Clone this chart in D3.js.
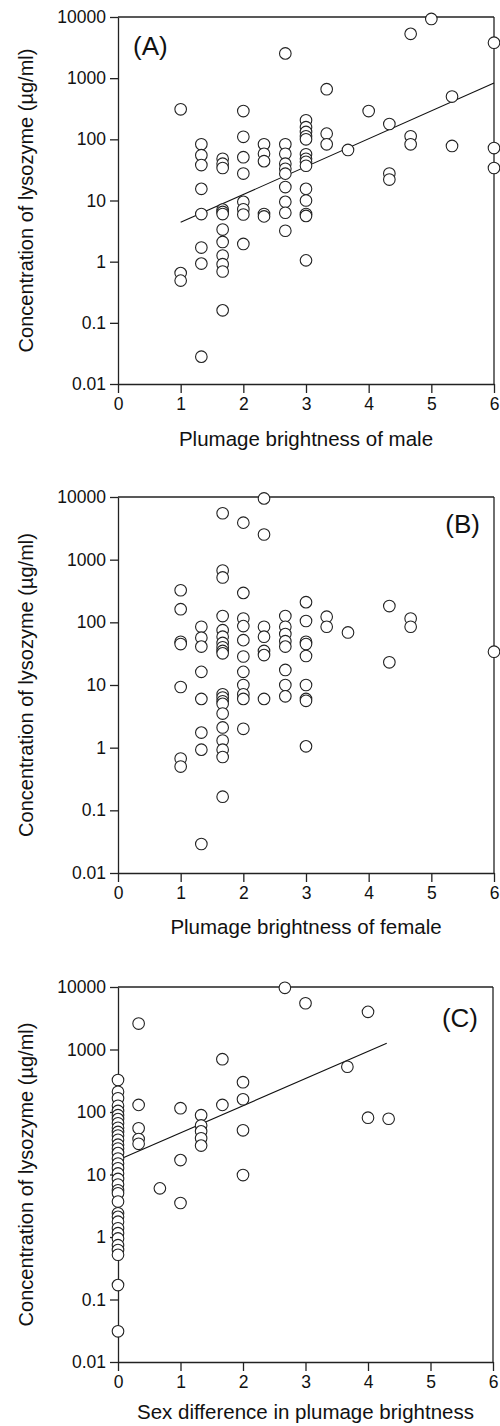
<!DOCTYPE html>
<html><head><meta charset="utf-8">
<script src="https://cdn.jsdelivr.net/npm/d3@7"></script>
<style>
body{margin:0;background:#fff;}
svg text{font-family:"Liberation Sans",Arial,Helvetica,sans-serif;fill:#111;}
</style></head>
<body><svg id="c" width="500" height="1426"></svg>
<script>
// ---------- DATA ----------
const yTicks = [0.01, 0.1, 1, 10, 100, 1000, 10000];
const xTicks = [0, 1, 2, 3, 4, 5, 6];

// Panel A: plumage brightness of male
const maleX = [
 1,1,1,
 1.33,1.33,1.33,1.33,1.33,1.33,1.33,1.33,
 1.67,1.67,1.67,1.67,1.67,1.67,1.67,1.67,1.67,1.67,1.67,1.67,
 2,2,2,2,2,2,2,2,
 2.33,2.33,2.33,2.33,2.33,
 2.67,2.67,2.67,2.67,2.67,2.67,2.67,2.67,2.67,2.67,
 3,3,3,3,3,3,3,3,3,3,3,3,3,3,
 3.33,3.33,3.33,
 3.67,
 4,
 4.33,4.33,4.33,
 4.67,4.67,4.67,
 5,
 5.33,5.33,
 6,6,6];
const maleY = [
 310,0.65,0.49,
 83,55,38,15.5,6.0,1.7,0.93,0.028,
 48,40,34,7.1,6.5,6.0,3.35,2.1,1.26,0.91,0.69,0.16,
 290,110,51,27.6,9.5,7.2,5.9,1.95,
 83,58,44,6.0,5.5,
 2540,83,58,40,33,27.5,16.6,9.5,6.3,3.2,
 205,158,132,112,100,57,48,43,37,15.5,10,6.0,5.6,1.05,
 660,124,83,
 67,
 290,
 178,27.6,22,
 5300,112,83,
 9300,
 500,78,
 3800,72,34];
const maleFitX = [1, 6];
const maleFitY = [4.4, 830];

// Panel B: plumage brightness of female
const femaleX = [
 1,1,1,1,1,1,1,
 1.33,1.33,1.33,1.33,1.33,1.33,1.33,1.33,
 1.67,1.67,1.67,1.67,1.67,1.67,1.67,1.67,1.67,1.67,1.67,1.67,1.67,1.67,1.67,1.67,1.67,1.67,1.67,1.67,
 2,2,2,2,2,2,2,2,2,2,2,
 2.33,2.33,2.33,2.33,2.33,2.33,2.33,
 2.67,2.67,2.67,2.67,2.67,2.67,2.67,2.67,
 3,3,3,3,3,3,3,3,3,
 3.33,3.33,
 3.67,
 4.33,4.33,
 4.67,4.67,
 6];
const femaleY = [
 325,162,49,45,9.3,0.67,0.50,
 85,57,41,16.2,6.0,1.74,0.93,0.029,
 5500,670,520,126,75,59,47,40,35,32,7.1,6.3,5.5,5.0,3.5,2.1,1.3,0.93,0.71,0.165,
 3900,295,115,87,52,28.5,16.2,10,7.1,6.0,2.0,
 9500,2520,85,59,35,30,6.0,
 126,85,65,50,41,17.4,10,6.6,
 210,105,49,45,29,10,6.0,5.6,1.05,
 123,85,
 69,
 182,23,
 115,85,
 34];

// Panel C: sex difference in plumage brightness
const diffX = [
 0,0,0,0,0,0,0,0,0,0,0,0,0,0,0,0,0,0,0,0,0,0,0,0,0,0,0,0,0,0,0,0,0,0,0,
 0.33,0.33,0.33,0.33,0.33,
 0.67,
 1,1,1,
 1.33,1.33,1.33,1.33,1.33,
 1.67,1.67,
 2,2,2,2,
 2.67,
 3,
 3.67,
 4,4,
 4.33];
const diffY = [
 325,211,166,126,104,89,77,66,56,48,42,36,30,26,22,18,15,12.6,10.4,8.5,6.9,5.6,5.0,3.7,2.4,2.1,1.76,1.38,1.15,0.95,0.74,0.62,0.52,0.17,0.031,
 2600,130,55,37,31,
 6.0,
 115,17,3.5,
 89,61,49,38,29,
 700,130,
 300,160,51,9.8,
 9700,
 5500,
 530,
 4000,81,
 78];
const diffFitX = [0, 4.3];
const diffFitY = [17, 1260];

const panelLabels = ["(A)", "(B)", "(C)"];
const xTitles = ["Plumage brightness of male", "Plumage brightness of female", "Sex difference in plumage brightness"];
const yTitle = "Concentration of lysozyme (\u00b5g/ml)";

// ---------- LAYOUT ----------
const panels = [
 {xs: maleX, ys: maleY, fx: maleFitX, fy: maleFitY, top: 17, bottom: 384, left: 118, right: 494, titleY: 446, lab: {x: 133, y: 55, anchor: "start"}},
 {xs: femaleX, ys: femaleY, fx: null, fy: null, top: 497, bottom: 873, left: 118, right: 494, titleY: 934, lab: {x: 480, y: 533, anchor: "end"}},
 {xs: diffX, ys: diffY, fx: diffFitX, fy: diffFitY, top: 987, bottom: 1362, left: 118, right: 493, titleY: 1419, lab: {x: 478, y: 1027, anchor: "end"}}
];

const svg = d3.select("#c");
const ink = "#222";

panels.forEach((p, i) => {
  const x = d3.scaleLinear().domain([0, 6]).range([p.left, p.right]);
  const y = d3.scaleLog().domain([0.01, 10000]).range([p.bottom, p.top]);
  const g = svg.append("g");

  // frame (top and right)
  g.append("line").attr("x1", p.left).attr("x2", p.right).attr("y1", p.top).attr("y2", p.top)
    .attr("stroke", ink).attr("stroke-width", 1.3);
  g.append("line").attr("x1", p.right).attr("x2", p.right).attr("y1", p.top).attr("y2", p.bottom)
    .attr("stroke", ink).attr("stroke-width", 1.3);

  const ax = g.append("g").attr("transform", `translate(0,${p.bottom})`)
    .call(d3.axisBottom(x).tickValues(xTicks).tickFormat(d3.format("d")).tickSize(9).tickSizeOuter(0).tickPadding(5));
  const ay = g.append("g").attr("transform", `translate(${p.left},0)`)
    .call(d3.axisLeft(y).tickValues(yTicks).tickFormat(d => String(d)).tickSize(8).tickSizeOuter(0).tickPadding(4));
  [ax, ay].forEach(a => {
    a.select(".domain").attr("stroke", ink).attr("stroke-width", 1.3);
    a.selectAll(".tick line").attr("stroke", ink).attr("stroke-width", 1.3);
    a.selectAll(".tick text").attr("font-size", 17.5).attr("fill", "#111");
  });

  // regression line
  if (p.fx) {
    g.append("path").datum(d3.zip(p.fx, p.fy))
      .attr("d", d3.line().x(d => x(d[0])).y(d => y(d[1])))
      .attr("fill", "none").attr("stroke", "#111").attr("stroke-width", 1.1);
  }

  // points
  g.append("g").selectAll("circle").data(d3.zip(p.xs, p.ys)).join("circle")
    .attr("cx", d => x(d[0])).attr("cy", d => y(d[1])).attr("r", 5.8)
    .attr("fill", "#fff").attr("stroke", ink).attr("stroke-width", 1.1);

  // titles
  g.append("text").attr("x", (p.left + p.right) / 2).attr("y", p.titleY)
    .attr("text-anchor", "middle").attr("font-size", 20.5).text(xTitles[i]);
  g.append("text").attr("transform", `translate(33,${(p.top + p.bottom) / 2}) rotate(-90)`)
    .attr("text-anchor", "middle").attr("font-size", 20).text(yTitle);
  g.append("text").attr("x", p.lab.x).attr("y", p.lab.y).attr("text-anchor", p.lab.anchor)
    .attr("font-size", 26).text(panelLabels[i]);
});
</script></body></html>
